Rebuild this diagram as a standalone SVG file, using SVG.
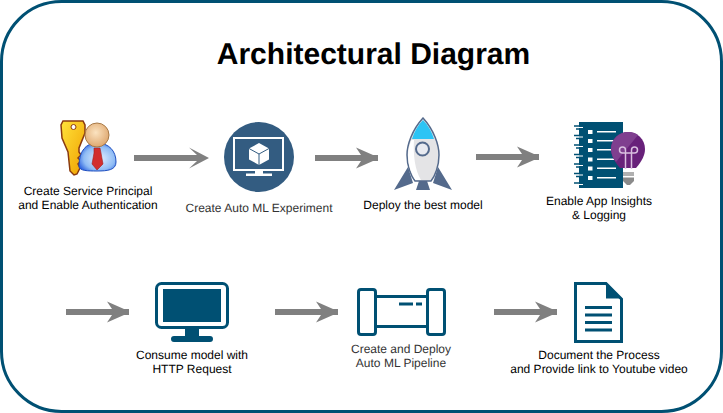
<svg xmlns="http://www.w3.org/2000/svg" width="723" height="413" viewBox="0 0 723 413">
<style>
text{font-family:"Liberation Sans",Arial,sans-serif;font-size:12px;fill:#000;text-anchor:middle;text-rendering:geometricPrecision}
.t{font-size:30px;font-weight:bold}
.s{fill:#333}
.a{fill:#808080;stroke:none}
.d{fill:#005073}
</style>
<defs>
<linearGradient id="key" x1="0" y1="0" x2="1" y2="1"><stop offset="0" stop-color="#ffe23a"/><stop offset="1" stop-color="#f0a000"/></linearGradient>
<radialGradient id="body" cx="0.55" cy="0.55" r="0.6"><stop offset="0" stop-color="#e4f0ff"/><stop offset=".7" stop-color="#8fbcf5"/><stop offset="1" stop-color="#3468e0"/></radialGradient>
<radialGradient id="head" cx="0.45" cy="0.4" r="0.6"><stop offset="0" stop-color="#fbe3c0"/><stop offset="1" stop-color="#dfa870"/></radialGradient>
<path id="arrow" d="M0 -3H46L41 -10.500L58 -3H63V3H58L41 10.500L46 3H0Z"/>
<path id="arrow-long" d="M0 -3H63L55 -10.500L75 0L55 10.500L63 3H0Z"/>
</defs>
<rect x="1.500" y="1.500" width="720" height="410" rx="60" ry="60" fill="#fff" stroke="#005073" stroke-width="3"/>
<text class="t" x="373.500" y="64">Architectural Diagram</text>
<g id="connectors">
<use href="#arrow-long" class="a" x="134" y="158"/>
<use href="#arrow" class="a" x="315" y="158"/>
<use href="#arrow" class="a" x="476" y="157"/>
<use href="#arrow" class="a" x="66" y="312"/>
<use href="#arrow" class="a" x="275" y="312"/>
<use href="#arrow" class="a" x="494" y="312"/>
</g>
<g id="node-principal">
<path d="M63 121H83L85 125L85 133L79 148V152L81 155L78 158L81 161L78 164L80 168L77 174L74 175L70 171L68 152L62 138L61 125Z" fill="url(#key)" stroke="#8a3a10" stroke-width="1.500"/>
<circle cx="73.500" cy="127" r="2.500" fill="#fff" stroke="#8a3a10"/>
<path d="M79 166C79 151 86 143 97 143C109 143 116 151 116 162C116 170 108 171 97 171C88 171 79 171 79 166Z" fill="url(#body)" stroke="#1f4fc0"/>
<path d="M94 148H100L101 153L103 164L97 170L92 164L94 153Z" fill="#d22e2e" stroke="#a02020" stroke-width=".6"/>
<circle cx="97" cy="135" r="12" fill="url(#head)" stroke="#a87a48"/>
<text x="88" y="195">Create Service Principal</text>
<text x="88" y="209">and Enable Authentication</text>
</g>
<g id="node-experiment">
<circle cx="259" cy="157" r="35" fill="#335c81"/>
<rect x="234" y="138" width="49" height="32" fill="none" stroke="#fff" stroke-width="2"/>
<path d="M259 143L269 148.500V159.500L259 165L249 159.500V148.500Z" fill="#fff"/>
<path d="M249 148.500L259 154L269 148.500M259 154V165" fill="none" stroke="#335c81" stroke-width="1"/>
<rect x="255" y="170" width="8" height="4" fill="#fff"/>
<rect x="246" y="173.500" width="26" height="2.500" fill="#fff"/>
<text class="s" x="259" y="212">Create Auto ML Experiment</text>
</g>
<g id="node-deploy">
<path d="M408 167L394 190L413 183Z M438 167L452 190L433 183Z" fill="#546a8c"/>
<path d="M419 181H427L430 190H416Z" fill="#546a8c"/>
<path d="M423 118C412 130 407 145 407 155C407 166 411 176 415 181H431C435 176 439 166 439 155C439 145 434 130 423 118Z" fill="#e4e4e6" stroke="#546a8c" stroke-width="1.500"/>
<path d="M423 120C418 125 414 132 412 139H434C432 132 428 125 423 120Z" fill="#2cc4f5"/>
<path d="M408 155C408 166 412 175 415.500 180H421C415 170 413 155 414 140H411.500C409 146 408 151 408 155Z" fill="#fff"/>
<circle cx="422.500" cy="149" r="6.500" fill="#e8eaf0" stroke="#546a8c" stroke-width="2"/>
<text x="423" y="209">Deploy the best model</text>
</g>
<g id="node-insights">
<rect x="579" y="122" width="44" height="66" fill="#005073"/>
<g stroke="#005073" stroke-width="1.300" fill="none">
<path d="M574 126H579M576 129H579M574 135.500H579M576 138.500H579M574 145H579M576 148H579M574 154.500H579M576 157.500H579M574 164H579M576 167H579M574 173.500H579M576 176.500H579M574 183H579"/>
</g>
<g stroke="#fff" stroke-width="1" fill="none">
<path d="M579 127.500H583M579 137H583M579 146.500H583M579 156H583M579 165.500H583M579 175H583M579 184.500H583"/>
</g>
<g fill="#fff">
<rect x="588" y="130" width="4.500" height="4"/><rect x="588" y="139" width="4.500" height="4"/><rect x="588" y="148" width="4.500" height="4"/><rect x="588" y="157.500" width="4.500" height="4"/><rect x="588" y="166.500" width="4.500" height="4"/><rect x="588" y="176" width="4.500" height="4"/>
<rect x="597" y="131" width="19" height="1.500"/><rect x="597" y="140" width="19" height="1.500"/><rect x="597" y="149" width="19" height="1.500"/><rect x="597" y="158.500" width="19" height="1.500"/><rect x="597" y="167.500" width="19" height="1.500"/><rect x="597" y="177" width="19" height="1.500"/>
</g>
<path d="M620 168C614 161 611 155 611 149C611 139 619 132 628 132C637 132 645 139 645 149C645 155 642 161 636 168Z" fill="#68217a"/>
<path d="M616 162C613 158 611 154 611 149C611 139 619 132 628 132C632 132 636 133 638 135Z" fill="#7f3f8f"/>
<g fill="none" stroke="#d9bfe0" stroke-width="1.500">
<path d="M625.500 169V150A3 3 0 1 0 622.500 153H634.500A3 3 0 1 0 631.500 150V169"/>
</g>
<path d="M623 172H634V176H623Z" fill="#b0b0b0"/>
<path d="M623 177.500H634V181L630 185H627L623 181Z" fill="#8a8a8a"/>
<text x="599" y="205">Enable App Insights</text>
<text x="599" y="219">&amp; Logging</text>
</g>
<g id="node-consume">
<rect x="156.500" y="283.500" width="71" height="44" rx="5" fill="#fff" stroke="#005073" stroke-width="3"/>
<rect x="163" y="289" width="58" height="33" class="d"/>
<path d="M185 328H199V336H210A3 3 0 0 1 210 342H174A3 3 0 0 1 174 336H185Z" class="d"/>
<text x="192" y="359">Consume model with</text>
<text x="192" y="373">HTTP Request</text>
</g>
<g id="node-pipeline">
<path d="M376 296.500H427M376 326.500H427" fill="none" stroke="#005073" stroke-width="3"/>
<rect x="358.500" y="289.500" width="17" height="45" rx="2.500" fill="#fff" stroke="#005073" stroke-width="3"/>
<rect x="427.500" y="289.500" width="17" height="45" rx="2.500" fill="#fff" stroke="#005073" stroke-width="3"/>
<rect x="399" y="302.500" width="14" height="3" class="d"/>
<rect x="416" y="302.500" width="6" height="3" class="d"/>
<text class="s" x="401" y="353">Create and Deploy</text>
<text class="s" x="401" y="367">Auto ML Pipeline</text>
</g>
<g id="node-document">
<path d="M575.500 283.500H606L621.500 299V341.500H575.500Z" fill="#fff" stroke="#005073" stroke-width="3"/>
<path d="M606 283L622 298.500H606Z" class="d"/>
<g class="d"><rect x="585" y="306" width="27" height="3"/><rect x="585" y="313.500" width="27" height="3"/><rect x="585" y="321" width="27" height="3"/><rect x="585" y="328.500" width="27" height="3"/></g>
<text x="599" y="359">Document the Process</text>
<text x="599" y="373">and Provide link to Youtube video</text>
</g>
</svg>
